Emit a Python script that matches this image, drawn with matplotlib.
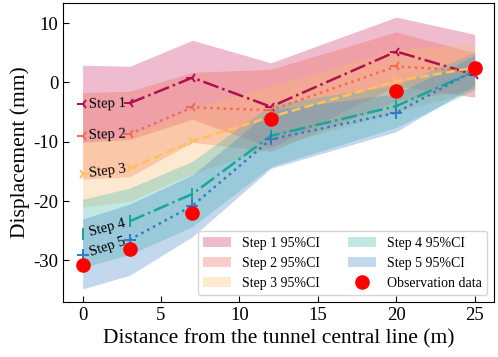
import matplotlib
matplotlib.use("Agg")
import matplotlib.pyplot as plt
import numpy as np

plt.rcParams["font.family"] = ["Liberation Serif", "DejaVu Serif"]
plt.rcParams["axes.unicode_minus"] = False

# distance from tunnel central line (m)
dist = [0, 3, 7, 12, 20, 25]

steps = ["Step 1", "Step 2", "Step 3", "Step 4", "Step 5"]

mean1 = [-3.7, -3.5, 0.8, -4.1, 5.2, 1.3]
mean2 = [-9.0, -8.7, -4.2, -4.7, 2.7, 1.9]
mean3 = [-15.5, -14.5, -9.9, -5.8, 0.2, 2.5]
mean4 = [-25.5, -23.4, -18.8, -9.0, -4.0, 1.9]
mean5 = [-29.1, -26.5, -20.8, -9.6, -5.1, 2.0]

upper1 = [2.9, 2.7, 7.1, 3.3, 11.0, 8.1]
lower1 = [-10.1, -9.6, -6.2, -11.0, -0.6, -2.5]
upper2 = [-1.7, -1.5, 1.7, 2.2, 8.5, 5.0]
lower2 = [-16.3, -15.9, -10.1, -11.6, -3.1, -1.2]
upper3 = [-10.0, -9.0, -4.4, -0.5, 5.5, 6.5]
lower3 = [-21.0, -20.0, -15.4, -11.0, -5.0, -1.5]
upper4 = [-19.7, -17.8, -13.3, -3.8, -0.4, 5.0]
lower4 = [-31.2, -29.0, -24.3, -14.2, -7.6, -1.2]
upper5 = [-23.0, -20.5, -15.6, -4.7, -1.9, 4.5]
lower5 = [-34.8, -32.5, -26.0, -14.5, -8.3, -0.5]

obs = [-30.7, -28.1, -22.0, -6.1, -1.5, 2.5]

means = [mean1, mean2, mean3, mean4, mean5]
uppers = [upper1, upper2, upper3, upper4, upper5]
lowers = [lower1, lower2, lower3, lower4, lower5]

line_colors = ["#b0104f", "#f46a4e", "#fdc15e", "#17a797", "#2f7cc6"]
band_colors = ["#d0306a", "#f26450", "#fbbd6c", "#3fb8a8", "#4a88c8"]
styles = ["-.", ":", "--", "-.", ":"]
markers = ["3", "3", "4", "|", "+"]

fig = plt.figure(figsize=(4.98, 3.57), dpi=100)
ax = fig.add_axes([0.1265, 0.154, 0.866, 0.838])

x = np.array(dist)
for i in range(5):
    ax.fill_between(x, lowers[i], uppers[i], color=band_colors[i], alpha=0.32,
                    lw=0, label=f"{steps[i]} 95%CI")

for i in range(5):
    m = np.array(means[i])
    # line starts at the second point, the gap holds the label
    ax.plot(x[1:], m[1:], ls=styles[i], color=line_colors[i], lw=1.8,
            marker=markers[i], ms=8, mew=1.4)
    ax.plot(x[:1], m[:1], ls="none", color=line_colors[i],
            marker=markers[i], ms=8, mew=1.4)
    ang = np.degrees(np.arctan2(m[1] - m[0], x[1] - x[0]))
    ax.text((x[0] + x[1]) / 2 + 0.1, (m[0] + m[1]) / 2, steps[i], fontsize=10.5,
            ha="center", va="center", rotation=ang,
            transform_rotates_text=True, rotation_mode="anchor", zorder=5)

ax.plot(x, obs, "o", color="red", ms=9.5, ls="none", label="Observation data",
        zorder=6)

ax.set_xlim(-1.25, 26.25)
ax.set_ylim(-37, 13.4)
ax.set_xticks([0, 5, 10, 15, 20, 25])
ax.set_yticks([-30, -20, -10, 0, 10])
ax.tick_params(direction="in", labelsize=13.5, length=4)
ax.set_xlabel("Distance from the tunnel central line (m)", fontsize=15.5)
ax.set_ylabel("Displacement (mm)", fontsize=15.5, labelpad=2)

ax.legend(loc="lower right", ncol=2, fontsize=10)

fig.savefig("out.png", dpi=100)
